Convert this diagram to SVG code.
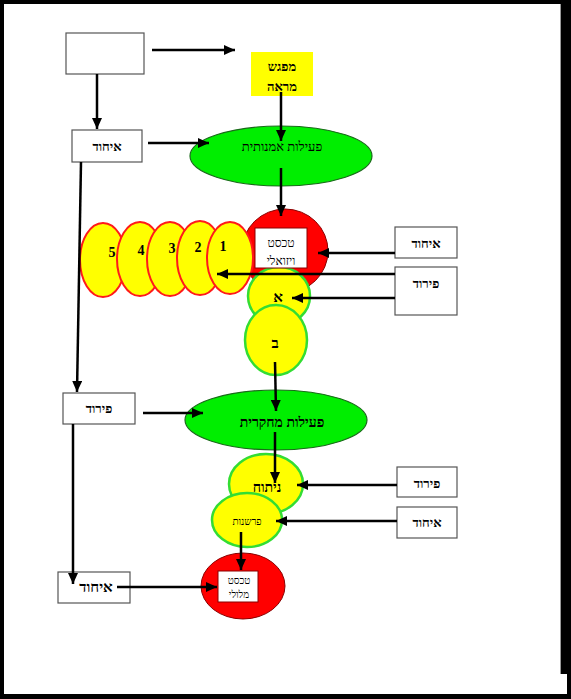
<svg xmlns="http://www.w3.org/2000/svg" width="571" height="699" viewBox="0 0 571 699">
<defs>
<marker id="ah" markerUnits="userSpaceOnUse" markerWidth="12" markerHeight="10" refX="11" refY="5" orient="auto">
<path d="M0,0 L11,5 L0,10 Z" fill="#000"/>
</marker>
<style>
.box{fill:#fff;stroke:#555;stroke-width:1.2}
.t{font-family:"Liberation Serif","DejaVu Serif",serif;text-anchor:middle;fill:#000}
.b{font-weight:bold}
.c{stroke:#000;stroke-width:2.5;fill:none}
.ca{stroke:#000;stroke-width:2.5;fill:none;marker-end:url(#ah)}
.ye{fill:#ffff00;stroke:#ff1a1a;stroke-width:2}
.yg{fill:#ffff00;stroke:#33dd33;stroke-width:2.5}
.gr{fill:#00ee00;stroke:#1a6a1a;stroke-width:1.2}
.rd{fill:#ff0000;stroke:#8a0000;stroke-width:1}
</style>
</defs>
<rect x="0" y="0" width="571" height="699" fill="#000"/>
<rect x="4" y="4" width="556" height="690" fill="#fff"/>
<rect x="4" y="674" width="563" height="20" fill="#fff"/>
<line x1="560.5" y1="4" x2="560.5" y2="674" stroke="#999" stroke-width="1"/>

<g id="empty-box"><rect class="box" x="66" y="33" width="78" height="41"/></g>

<g id="mifgash-mare">
<rect x="251" y="52" width="62" height="44" fill="#ffff00"/>
<text class="t b" x="282" y="71" font-size="13">מפגש</text>
<text class="t b" x="282" y="91" font-size="13">מראה</text>
</g>

<g id="ihud-1"><rect class="box" x="72" y="130" width="70" height="32"/>
<text class="t b" x="107" y="151" font-size="13">איחוד</text></g>

<g id="peilut-omanutit"><ellipse class="gr" cx="281" cy="156" rx="91" ry="30"/>
<text class="t" x="282" y="151" font-size="13">פעילות אמנותית</text></g>

<g id="ellipses-1-5">
<ellipse class="ye" cx="103" cy="260" rx="23" ry="37"/>
<ellipse class="ye" cx="140" cy="259" rx="23" ry="37"/>
<ellipse class="ye" cx="170" cy="259" rx="23" ry="37"/>
<ellipse class="ye" cx="200" cy="258" rx="23" ry="37"/>
<text class="t b" x="112" y="257" font-size="14">5</text>
<text class="t b" x="141" y="255" font-size="14">4</text>
<text class="t b" x="172" y="253" font-size="14">3</text>
<text class="t b" x="198" y="252" font-size="14">2</text>
</g>

<g id="tekst-vizuali">
<ellipse class="rd" cx="285" cy="251" rx="43" ry="42"/>
</g>
<g id="ellipse-1">
<ellipse class="ye" cx="230" cy="258" rx="23" ry="36"/>
<text class="t b" x="223" y="251" font-size="14">1</text>
</g>
<g id="alef"><ellipse class="yg" cx="279" cy="296" rx="31" ry="29"/>
<text class="t b" x="278" y="302" font-size="15">א</text></g>
<g id="bet"><ellipse class="yg" cx="276" cy="340" rx="31" ry="35"/>
<text class="t b" x="275" y="348" font-size="15">ב</text></g>
<g id="tekst-vizuali-box">
<rect x="255" y="228" width="52" height="40" fill="#fff" stroke="#8a0000" stroke-width="1"/>
<text class="t" x="281" y="247" font-size="12">טכסט</text>
<text class="t" x="281" y="265" font-size="12">ויזואלי</text>
</g>

<g id="ihud-2"><rect class="box" x="395" y="227" width="62" height="31"/>
<text class="t b" x="426" y="248" font-size="13">איחוד</text></g>
<g id="pirud-1"><rect class="box" x="395" y="267" width="62" height="48"/>
<text class="t b" x="426" y="288" font-size="13">פירוד</text></g>

<g id="pirud-2"><rect class="box" x="63" y="393" width="72" height="31"/>
<text class="t b" x="99" y="413" font-size="13">פירוד</text></g>

<g id="peilut-mehkarit"><ellipse class="gr" cx="276" cy="420" rx="91" ry="30"/>
<text class="t b" x="282" y="427" font-size="14">פעילות מחקרית</text></g>

<g id="nituah"><ellipse class="yg" cx="266" cy="484" rx="37" ry="30"/>
<text class="t b" x="267" y="492" font-size="14">ניתוח</text></g>
<g id="parshanut"><ellipse class="yg" cx="247" cy="520" rx="35" ry="27"/>
<text class="t" x="247" y="525" font-size="10">פרשנות</text></g>

<g id="pirud-3"><rect class="box" x="397" y="467" width="60" height="30"/>
<text class="t b" x="427" y="488" font-size="13">פירוד</text></g>
<g id="ihud-3"><rect class="box" x="397" y="507" width="60" height="31"/>
<text class="t b" x="427" y="527" font-size="13">איחוד</text></g>

<g id="tekst-miluli"><ellipse class="rd" cx="243" cy="586" rx="42" ry="33"/>
<rect x="218" y="571" width="40" height="31" fill="#fff" stroke="#8a0000" stroke-width="1"/>
<text class="t" x="239" y="584" font-size="10">טכסט</text>
<text class="t" x="239" y="598" font-size="10">מלולי</text></g>

<g id="ihud-4"><rect class="box" x="58" y="572" width="72" height="31"/>
<text class="t b" x="96" y="592" font-size="15">איחוד</text></g>

<g id="connectors">
<line class="ca" x1="152" y1="50" x2="235" y2="50"/>
<line class="ca" x1="97" y1="74" x2="97" y2="129"/>
<line class="ca" x1="281" y1="92" x2="281" y2="141"/>
<line class="ca" x1="148" y1="143" x2="209" y2="143"/>
<line class="ca" x1="281" y1="168" x2="281" y2="216"/>
<line class="ca" x1="81" y1="162" x2="77" y2="392"/>
<line class="ca" x1="395" y1="253" x2="318" y2="253"/>
<line class="ca" x1="395" y1="274" x2="217" y2="274"/>
<line class="ca" x1="395" y1="298" x2="292" y2="298"/>
<line class="ca" x1="275" y1="362" x2="276" y2="411"/>
<line class="ca" x1="143" y1="413" x2="203" y2="413"/>
<line class="ca" x1="275" y1="432" x2="275" y2="483"/>
<line class="ca" x1="397" y1="485" x2="297" y2="485"/>
<line class="ca" x1="397" y1="521" x2="276" y2="521"/>
<line class="ca" x1="241" y1="532" x2="241" y2="570"/>
<line class="ca" x1="73" y1="424" x2="73" y2="584"/>
<line class="ca" x1="117" y1="587" x2="217" y2="587"/>
</g>
</svg>
